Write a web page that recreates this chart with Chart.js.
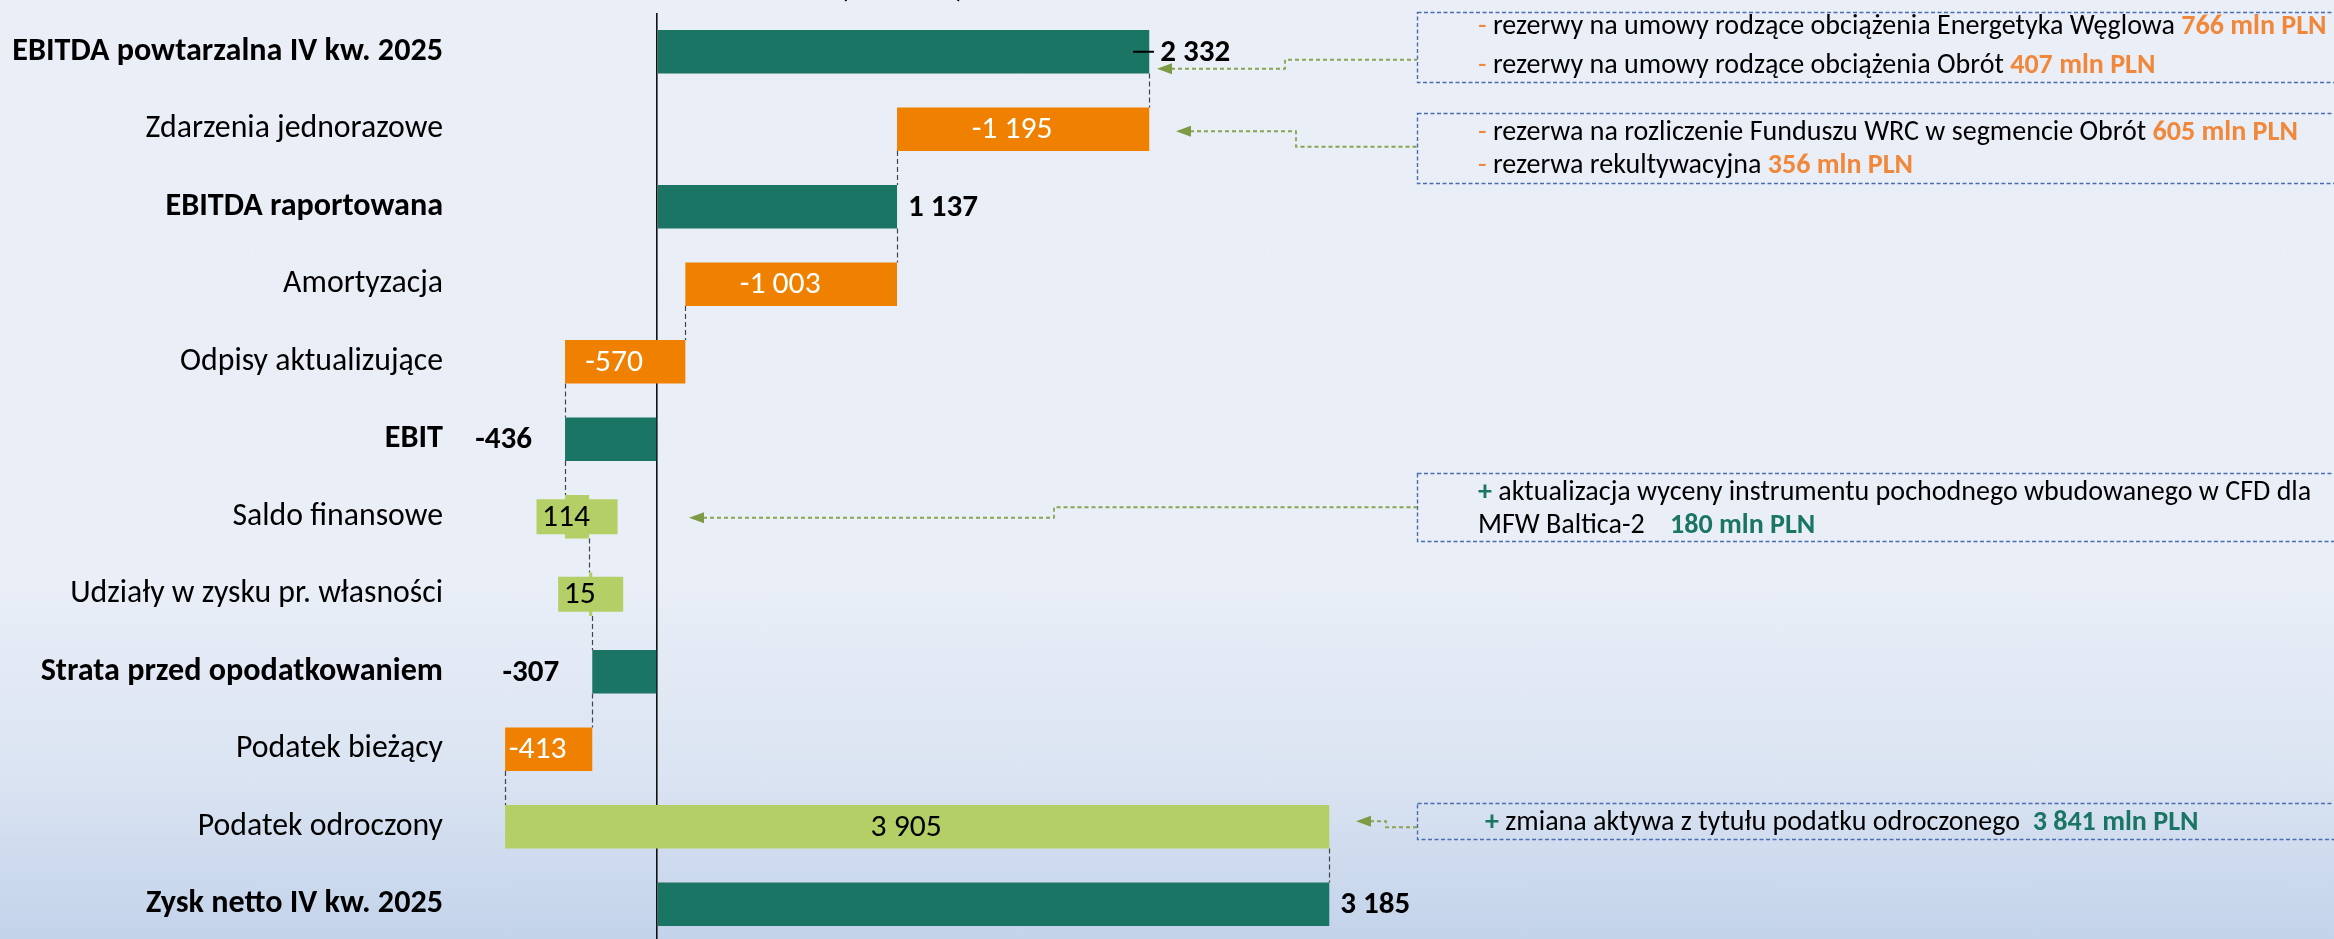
<!DOCTYPE html>
<html>
<head>
<meta charset="utf-8">
<script src="https://cdn.jsdelivr.net/npm/chart.js@4.4.1/dist/chart.umd.min.js"></script>
<style>
  html, body { margin: 0; padding: 0; width: 2334px; height: 939px; overflow: hidden; }
  html { background: linear-gradient(to bottom, #eaeef6 0%, #e9eef7 62%, #dbe4f2 82%, #c3d3ea 100%); }
  body { background: transparent; }
  canvas { display: block; }
</style>
</head>
<body>
<canvas id="c" width="2334" height="943"></canvas>
<script>
// ---------- DATA ----------
const categories = [
  'EBITDA powtarzalna IV kw. 2025',
  'Zdarzenia jednorazowe',
  'EBITDA raportowana',
  'Amortyzacja',
  'Odpisy aktualizujące',
  'EBIT',
  'Saldo finansowe',
  'Udziały w zysku pr. własności',
  'Strata przed opodatkowaniem',
  'Podatek bieżący',
  'Podatek odroczony',
  'Zysk netto IV kw. 2025'
];
const values = [2332, -1195, 1137, -1003, -570, -436, 114, 15, -307, -413, 3905, 3185];
const isTotal = [true, false, true, false, false, true, false, false, true, false, false, true];
const valueLabels = ['2 332', '-1 195', '1 137', '-1 003', '-570', '-436', '114', '15', '-307', '-413', '3 905', '3 185'];
const unitTitle = '(mln PLN)';

// ---------- STYLE ----------
const FAM = "Carlito, Lato, 'Liberation Sans', sans-serif";
const C_TOTAL = '#1a7565';
const C_NEG = '#f08000';
const C_POS = '#b3cf66';
const C_ORANGE_TXT = '#f0873a';
const C_GREEN_TXT = '#1a7565';

// ---------- WATERFALL RANGES ----------
const ranges = [];
let run = 0;
values.forEach((v, i) => {
  if (isTotal[i]) { ranges.push([0, v]); run = v; }
  else { ranges.push([run, run + v]); run += v; }
});
const colors = values.map((v, i) => isTotal[i] ? C_TOTAL : (v < 0 ? C_NEG : C_POS));

// ---------- FONT FITTING ----------
const mctx = document.createElement('canvas').getContext('2d');
function fit(text, weight, target) {
  mctx.font = `${weight} 100px ${FAM}`;
  return 100 * target / mctx.measureText(text).width;
}
const sizeCatBold = fit('EBITDA powtarzalna IV kw. 2025', 'bold', 431);
const sizeCatReg = fit('Udziały w zysku pr. własności', 'normal', 373);
const sizeValBold = fit('2 332', 'bold', 70);
const sizeValReg = fit('-1 195', 'normal', 81);
function richWidth(segs, size) {
  let w = 0;
  segs.forEach(s => { mctx.font = `${s.b ? 'bold' : 'normal'} ${size}px ${FAM}`; w += mctx.measureText(s.t).width; });
  return w;
}
const L1 = [{t: '- ', c: C_ORANGE_TXT}, {t: 'rezerwy na umowy rodzące obciążenia Energetyka Węglowa ', c: '#000'}, {t: '766 mln PLN', b: true, c: C_ORANGE_TXT}];
const L2 = [{t: '- ', c: C_ORANGE_TXT}, {t: 'rezerwy na umowy rodzące obciążenia Obrót ', c: '#000'}, {t: '407 mln PLN', b: true, c: C_ORANGE_TXT}];
const L3 = [{t: '- ', c: C_ORANGE_TXT}, {t: 'rezerwa na rozliczenie Funduszu WRC w segmencie Obrót ', c: '#000'}, {t: '605 mln PLN', b: true, c: C_ORANGE_TXT}];
const L4 = [{t: '- ', c: C_ORANGE_TXT}, {t: 'rezerwa rekultywacyjna ', c: '#000'}, {t: '356 mln PLN', b: true, c: C_ORANGE_TXT}];
const L5 = [{t: '+ ', b: true, c: C_GREEN_TXT}, {t: 'aktualizacja wyceny instrumentu pochodnego wbudowanego w CFD dla', c: '#000'}];
const L6a = [{t: 'MFW Baltica-2', c: '#000'}];
const L6b = [{t: '180 mln PLN', b: true, c: C_GREEN_TXT}];
const L7 = [{t: '+ ', b: true, c: C_GREEN_TXT}, {t: 'zmiana aktywa z tytułu podatku odroczonego  ', c: '#000'}, {t: '3 841 mln PLN', b: true, c: C_GREEN_TXT}];
const sizeNote = 100 * 849 / richWidth(L1, 100);

function drawRich(ctx, segs, x, y, size) {
  ctx.textBaseline = 'middle';
  ctx.textAlign = 'left';
  segs.forEach(s => {
    ctx.font = `${s.b ? 'bold' : 'normal'} ${size}px ${FAM}`;
    ctx.fillStyle = s.c;
    ctx.fillText(s.t, x, y);
    x += ctx.measureText(s.t).width;
  });
}

// ---------- PLUGINS ----------
const connectorPlugin = {
  id: 'connectors',
  beforeDatasetsDraw(chart) {
    const {ctx, scales: {x}} = chart;
    const meta = chart.getDatasetMeta(0);
    ctx.save();
    ctx.strokeStyle = '#444';
    ctx.lineWidth = 1.2;
    ctx.setLineDash([5, 3]);
    for (let i = 0; i < ranges.length - 1; i++) {
      const a = meta.data[i], b = meta.data[i + 1];
      const xv = x.getPixelForValue(ranges[i][1]);
      ctx.beginPath();
      ctx.moveTo(Math.round(xv) + 0.5, a.y + a.height / 2);
      ctx.lineTo(Math.round(xv) + 0.5, b.y - b.height / 2);
      ctx.stroke();
    }
    ctx.restore();
  }
};

const labelPlugin = {
  id: 'valueLabels',
  afterDatasetsDraw(chart) {
    const {ctx, scales: {x}} = chart;
    const meta = chart.getDatasetMeta(0);
    ctx.save();
    ctx.textBaseline = 'middle';
    meta.data.forEach((el, i) => {
      const [s, e] = ranges[i];
      const x0 = x.getPixelForValue(s), x1 = x.getPixelForValue(e);
      const yc = el.y;
      const txt = valueLabels[i];
      if (isTotal[i]) {
        ctx.font = `bold ${sizeValBold}px ${FAM}`;
        ctx.fillStyle = '#000';
        if (e >= 0) { ctx.textAlign = 'left'; ctx.fillText(txt, x1 + 11, yc + 1); }
        else { ctx.textAlign = 'right'; ctx.fillText(txt, x1 - 33, yc + 1); }
      } else {
        ctx.font = `normal ${sizeValReg}px ${FAM}`;
        const tw = ctx.measureText(txt).width;
        const c = (x0 + x1) / 2;
        if (values[i] > 0) {
          ctx.fillStyle = colors[i];
          ctx.fillRect(c - (tw + 33) / 2, yc - 17.5, tw + 33, 35);
        }
        ctx.fillStyle = values[i] < 0 ? '#fff' : '#000';
        ctx.textAlign = 'center';
        ctx.fillText(txt, c - 11, yc + 1);
      }
    });
    ctx.restore();
  }
};

const notesPlugin = {
  id: 'notes',
  afterDraw(chart) {
    const {ctx, scales: {y}} = chart;
    ctx.save();
    // unit title (cut off at top)
    ctx.font = `normal ${sizeCatReg}px ${FAM}`;
    ctx.fillStyle = '#000';
    ctx.textAlign = 'center';
    ctx.textBaseline = 'alphabetic';
    ctx.fillText(unitTitle, 902, -3);

    // small leader tick before first label
    const y0 = y.getPixelForValue(0);
    ctx.strokeStyle = '#000';
    ctx.lineWidth = 2;
    ctx.beginPath(); ctx.moveTo(1133, y0); ctx.lineTo(1154, y0); ctx.stroke();

    // boxes
    ctx.strokeStyle = '#4a6db2';
    ctx.lineWidth = 1.4;
    ctx.setLineDash([4, 2.5]);
    [[12, 82], [113, 183], [473, 541], [803, 839]].forEach(([t, b]) => {
      ctx.strokeRect(1417.5, t + 0.5, 1000, b - t);
    });

    // arrows
    const arrows = [
      [1157, y0 + 17, 1285, y0 + 8],
      [1176, y.getPixelForValue(1) + 2, 1296, y.getPixelForValue(1) + 17.5],
      [689, y.getPixelForValue(6) + 1, 1054, y.getPixelForValue(6) - 9.5],
      [1356, y.getPixelForValue(10) - 5.5, 1386, y.getPixelForValue(10) + 0.5]
    ];
    arrows.forEach(([tx, ty, sx, ey]) => {
      ctx.strokeStyle = '#8aa452';
      ctx.lineWidth = 1.8;
      ctx.setLineDash([4, 3]);
      ctx.beginPath();
      ctx.moveTo(tx + 14, ty);
      ctx.lineTo(sx, ty);
      ctx.lineTo(sx, ey);
      ctx.lineTo(1417, ey);
      ctx.stroke();
      ctx.setLineDash([]);
      ctx.fillStyle = '#7d9a45';
      ctx.beginPath();
      ctx.moveTo(tx, ty);
      ctx.lineTo(tx + 15, ty - 5.5);
      ctx.lineTo(tx + 15, ty + 5.5);
      ctx.closePath();
      ctx.fill();
    });

    // texts
    drawRich(ctx, L1, 1478, 27, sizeNote);
    drawRich(ctx, L2, 1478, 66, sizeNote);
    drawRich(ctx, L3, 1478, 133, sizeNote);
    drawRich(ctx, L4, 1478, 166, sizeNote);
    drawRich(ctx, L5, 1478, 493, sizeNote);
    drawRich(ctx, L6a, 1478, 526, sizeNote);
    drawRich(ctx, L6b, 1670, 526, sizeNote);
    drawRich(ctx, L7, 1485, 823, sizeNote);
    ctx.restore();
  }
};

function zeroPad(s) { s.paddingTop = 0; s.paddingBottom = 0; s.paddingLeft = 0; s.paddingRight = 0; }

// ---------- CHART ----------
new Chart(document.getElementById('c'), {
  type: 'bar',
  data: {
    labels: categories,
    datasets: [{
      data: ranges,
      backgroundColor: colors,
      borderWidth: 0,
      barPercentage: 0.562,
      categoryPercentage: 1
    }]
  },
  options: {
    indexAxis: 'y',
    responsive: false,
    animation: false,
    layout: { autoPadding: false, padding: { top: 13, right: 94, bottom: 0, left: 0 } },
    plugins: { legend: { display: false }, tooltip: { enabled: false }, title: { display: false } },
    scales: {
      x: {
        min: -1000,
        max: 7500,
        ticks: { display: false, stepSize: 500 },
        grid: {
          drawTicks: false,
          lineWidth: 1.6,
          color: c => (c.tick && c.tick.value === 0) ? '#111' : 'rgba(0,0,0,0)'
        },
        border: { display: false },
        afterFit: s => { s.height = 0; zeroPad(s); }
      },
      y: {
        ticks: {
          color: '#000',
          padding: 3,
          font: c => isTotal[c.index]
            ? { family: FAM, size: sizeCatBold, weight: 'bold' }
            : { family: FAM, size: sizeCatReg, weight: 'normal' }
        },
        grid: { display: false, drawTicks: false },
        border: { display: false },
        afterFit: s => { s.width = 446; zeroPad(s); }
      }
    }
  },
  plugins: [connectorPlugin, labelPlugin, notesPlugin]
});
</script>
</body>
</html>
